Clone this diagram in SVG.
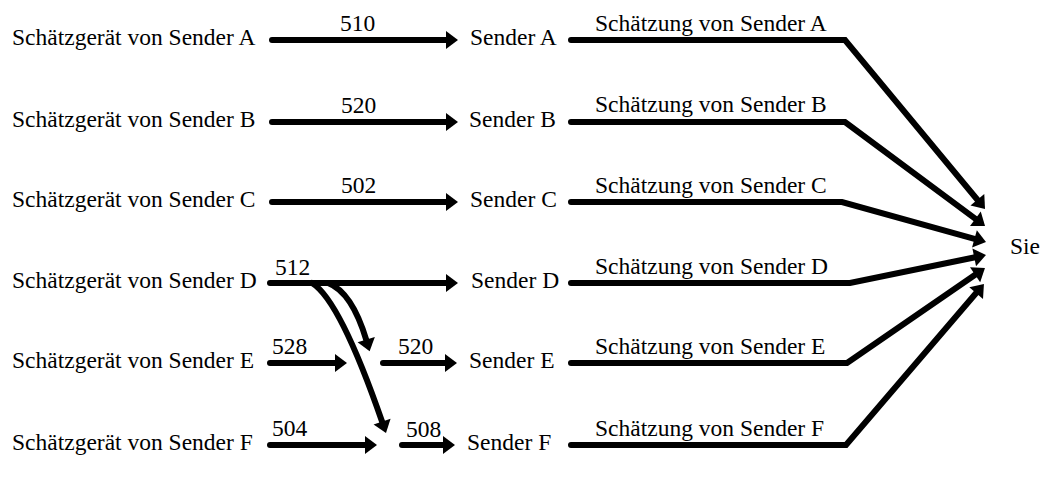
<svg xmlns="http://www.w3.org/2000/svg" width="1064" height="480" viewBox="0 0 1064 480">
<style>
.c{fill:none;stroke:#000;stroke-width:6;stroke-linecap:round;stroke-linejoin:miter;marker-end:url(#ah)}
</style>
<defs>
<marker id="ah" markerUnits="userSpaceOnUse" markerWidth="14" markerHeight="20" refX="1" refY="9" orient="auto" overflow="visible">
<path d="M0,0 L12,9 L0,18 z" fill="#000"/>
</marker>
</defs>
<rect width="1064" height="480" fill="#fff"/>
<g font-family="Liberation Serif, serif" font-size="23.5" fill="#000">
<g id="est-A"><text x="12" y="45">Schätzgerät von Sender A</text></g>
<g id="est-B"><text x="12" y="127">Schätzgerät von Sender B</text></g>
<g id="est-C"><text x="12" y="207">Schätzgerät von Sender C</text></g>
<g id="est-D"><text x="12" y="288">Schätzgerät von Sender D</text></g>
<g id="est-E"><text x="12" y="368">Schätzgerät von Sender E</text></g>
<g id="est-F"><text x="12" y="450">Schätzgerät von Sender F</text></g>
<g id="snd-A"><text x="470" y="45">Sender A</text></g>
<g id="snd-B"><text x="469" y="127">Sender B</text></g>
<g id="snd-C"><text x="470" y="207">Sender C</text></g>
<g id="snd-D"><text x="471" y="288">Sender D</text></g>
<g id="snd-E"><text x="469" y="368">Sender E</text></g>
<g id="snd-F"><text x="467" y="450">Sender F</text></g>
<g id="sie"><text x="1010" y="254">Sie</text></g>
</g>
<g id="connectors">
<path class="c" d="M272,40 H447"/>
<path class="c" d="M272,122 H447"/>
<path class="c" d="M272,202 H447"/>
<path class="c" d="M270,283 H447"/>
<path class="c" d="M270,363 H336"/>
<path class="c" d="M383,363 H446"/>
<path class="c" d="M270,445 H366"/>
<path class="c" d="M402,445 H444"/>
<path class="c" d="M328,283 Q352,292 366.5,340.6"/>
<path class="c" d="M312,283 Q340,300 382.4,422.6"/>
<path class="c" d="M571,40 H845 L978,200.5"/>
<path class="c" d="M571,122 H845 L976.2,219.4"/>
<path class="c" d="M571,202 H842 L975.4,239.1"/>
<path class="c" d="M571,283 H850 L975.2,257.2"/>
<path class="c" d="M571,363 H847 L975.9,274.2"/>
<path class="c" d="M571,445 H846 L976.8,292.3"/>
</g>
<g id="labels" font-family="Liberation Serif, serif" font-size="23.5" fill="#000">
<text x="340" y="31">510</text>
<text x="341" y="113">520</text>
<text x="341" y="193">502</text>
<text x="275" y="275">512</text>
<text x="272" y="354">528</text>
<text x="398" y="354">520</text>
<text x="272" y="436">504</text>
<text x="406" y="437">508</text>
<text x="595" y="31">Schätzung von Sender A</text>
<text x="595" y="112">Schätzung von Sender B</text>
<text x="595" y="193">Schätzung von Sender C</text>
<text x="595" y="274">Schätzung von Sender D</text>
<text x="595" y="354">Schätzung von Sender E</text>
<text x="595" y="436">Schätzung von Sender F</text>
</g>
</svg>
